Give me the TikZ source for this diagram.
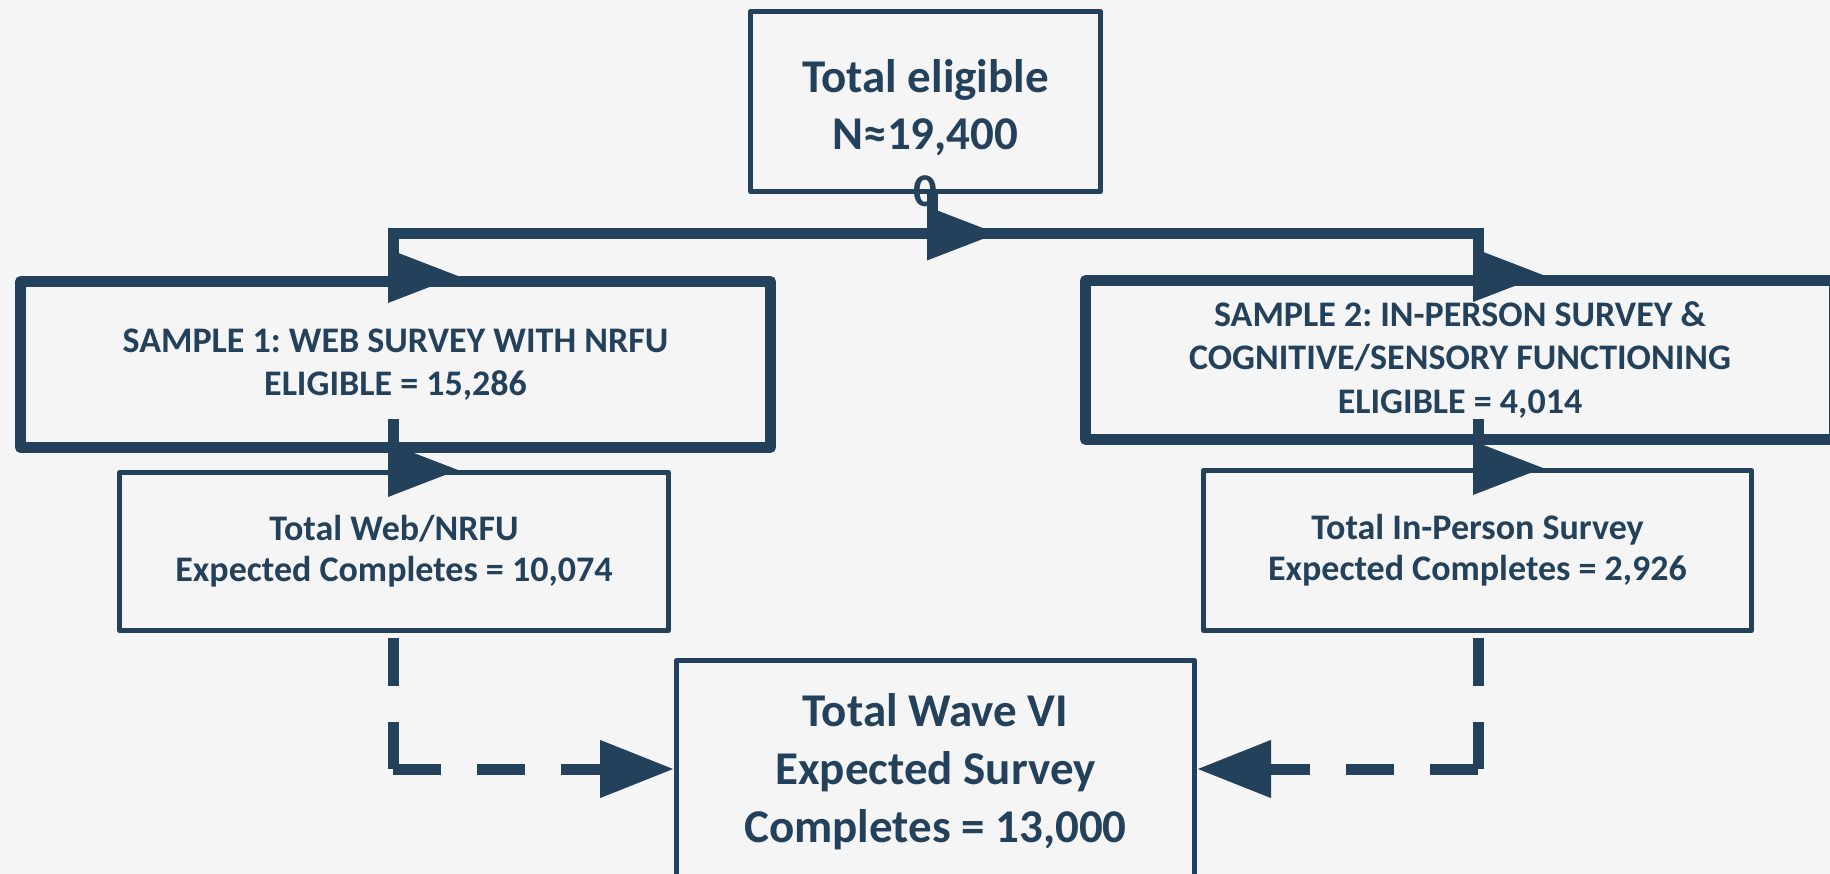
\documentclass[tikz,border=0pt]{standalone}
\usepackage{fontspec}
\setmainfont{Carlito}
\frenchspacing
\usetikzlibrary{arrows.meta}
\definecolor{navy}{RGB}{35,65,90}
\definecolor{paper}{RGB}{245,245,245}
\tikzset{
  box/.style={draw=navy, line width=5pt, line join=round, text=navy, align=center, inner sep=0pt},
  thickbox/.style={box, line width=11pt},
  conn/.style={draw=navy, line width=11pt},
  dconn/.style={conn, dash pattern=on 48pt off 36pt},
  tip/.style={-{Triangle[length=74pt,width=55pt]}}
}
% triangle standing on the end of a vertical line, pointing right
\newcommand\sidetip[1]{\fill[navy] (#1) ++(-5,-27) -- ++(70,27) -- ++(-70,27) -- cycle;}
\begin{document}
\begin{tikzpicture}[x=1pt, y=-1pt]
  \fill[paper] (0,0) rectangle (1830,874);
  \useasboundingbox (0,0) rectangle (1830,874);

  % Nodes
  \node[box, minimum width=350pt, minimum height=180pt,
        font=\bfseries\fontsize{47}{57}\selectfont] (tot) at (925.5,101.5)
        {\raisebox{-43pt}[90pt][90pt]{\begin{tabular}{@{}c@{}}Total eligible\\N≈19,400\\0\end{tabular}}};
  \node[thickbox, minimum width=750pt, minimum height=166pt,
        font=\bfseries\fontsize{36}{43}\selectfont] (s1) at (395.5,364.5)
        {SAMPLE 1: WEB SURVEY WITH NRFU\\ELIGIBLE = 15,286};
  \node[thickbox, minimum width=749pt, minimum height=159pt,
        font=\bfseries\fontsize{36}{43.5}\selectfont] (s2) at (1460,360)
        {SAMPLE 2: IN-PERSON SURVEY \&\\COGNITIVE/SENSORY FUNCTIONING\\ELIGIBLE = 4,014};
  \node[box, minimum width=549pt, minimum height=158pt,
        font=\bfseries\fontsize{36}{41}\selectfont] (web) at (394,551.5)
        {Total Web/NRFU\\Expected Completes = 10,074};
  \node[box, minimum width=548pt, minimum height=160pt,
        font=\bfseries\fontsize{36}{41}\selectfont] (inp) at (1477.5,550.5)
        {Total In-Person Survey\\Expected Completes = 2,926};
  \node[box, minimum width=518pt, minimum height=223pt,
        font=\bfseries\fontsize{47}{58}\selectfont] (wave) at (935.5,772)
        {Total Wave VI\\Expected Survey\\Completes = 13,000};

  % Arrows
  \coordinate (jt) at (932,233.5);
  \coordinate (jl) at (393,233.5);
  \coordinate (jr) at (1478,233.5);
  \coordinate (cl) at (393,769);
  \coordinate (cr) at (1478,769);

  \draw[conn] ([xshift=6.5pt]tot.south) -- (jt);
  \draw[conn] (s1.north -| jl) -- (jl) -- (jr) -- (s2.north -| jr);
  \draw[conn] ([yshift=34pt]s1.south -| jl) -- (web.north -| jl);
  \draw[conn] ([yshift=26pt]s2.south -| jr) -- (inp.north -| jr);
  \sidetip{jt}
  \sidetip{s1.north -| jl}
  \sidetip{s2.north -| jr}
  \sidetip{web.north -| jl}
  \sidetip{inp.north -| jr}

  \draw[dconn] ([yshift=-4.5pt]web.south -| cl) -- (cl);
  \draw[dconn, tip] (cl) -- (wave.west |- cl);
  \draw[dconn] ([yshift=-4.5pt]inp.south -| cr) -- (cr);
  \draw[dconn, tip] (cr) -- (wave.east |- cr);
\end{tikzpicture}
\end{document}
